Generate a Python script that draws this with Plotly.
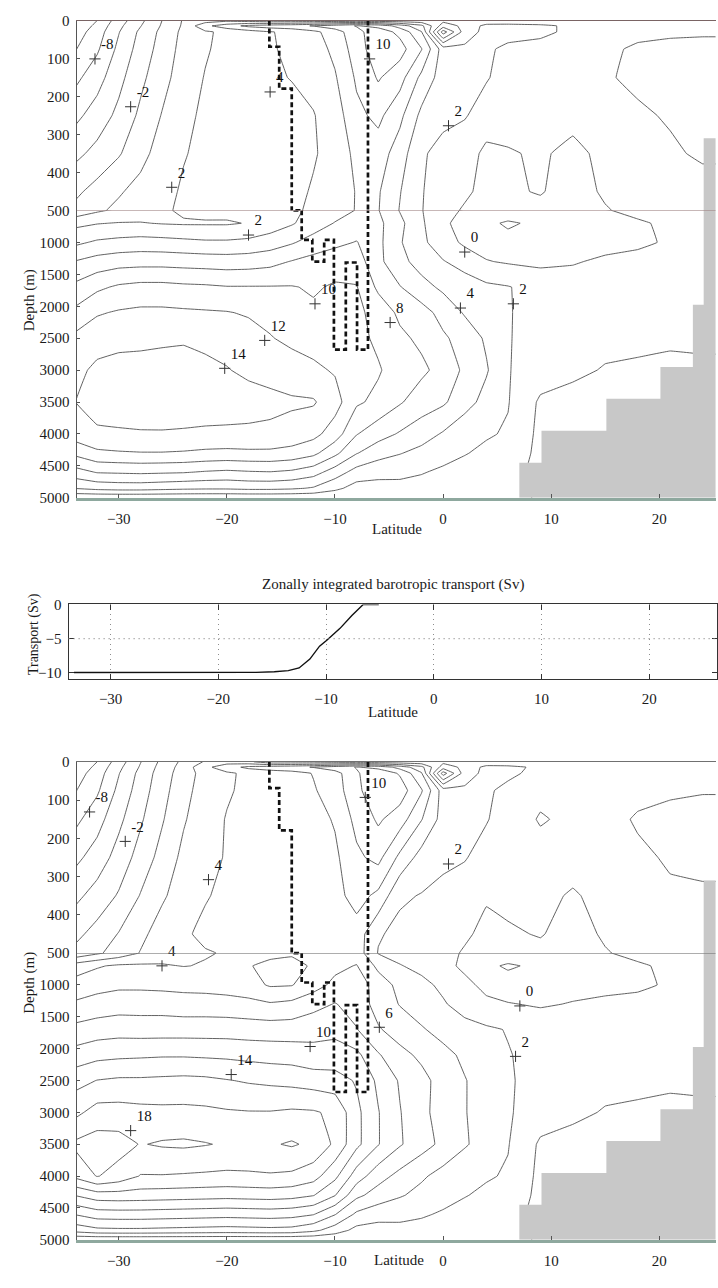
import plotly.graph_objects as go

# ---------------- data ----------------
lats = [-34, -32, -30, -28, -26, -24, -22, -20, -18, -16, -14, -12, -10, -8, -6, -4, -2, 0,
        2, 4, 6, 9, 12, 15, 18, 21, 24, 26]
depths = [0, 14, 30, 75, 150, 250, 350, 450, 500, 700, 1000, 1300, 1700, 2100, 2500, 3000,
          3500, 4000, 4300, 4600, 4850, 5000]

# streamfunction (Sv), experiment shown in the upper panel
psi_a = [
    [-12, -10, -7, -4.5, -2, 0.2, 1, 1.5, 1, 0.5, 0.5, 0.5, 0.5, 0.5, 0.5, 0.5, 0.5, 0.5, 0.5, 0.5, 0.5, 0.5, 0.5, 0.5, 0.5, 0.5, 0.5, 0.5],
    [-11.5, -9.5, -6.5, -4.1, -1.8, 0.3, 3.5, 5.1, 6.5, 7.1, 7.5, 8.1, 9.1, 10.1, 9.5, 7.1, 4.5, -1.0, 0.5, 2.6, 2.7, 2.4, 1.6, 1.0, 0.8, 0.7, 0.6, 0.6],
    [-11, -9, -6.1, -3.6, -1.5, 0.5, 1.7, 2.5, 3.1, 3.9, 4.4, 5.5, 7.0, 9.5, 11.0, 9.5, 6.1, -5.0, 1.0, 2.6, 2.7, 2.5, 1.5, 0.8, 0.5, 0.3, 0.2, 0.2],
    [-10.1, -8.3, -5.5, -3.2, -1.2, 0.7, 1.8, 2.6, 3.1, 3.9, 4.2, 5.0, 6.5, 9.0, 11.3, 10.8, 8.1, 3.0, 2.4, 2.3, 1.6, 1.2, 0.8, 0.4, -0.3, -0.5, -0.5, -0.5],
    [-8.5, -6.8, -4.6, -2.5, -0.7, 1.0, 2.1, 2.7, 3.2, 3.8, 4.05, 4.6, 5.8, 8.3, 10.2, 8.8, 5.5, 3.0, 2.4, 2.1, 1.5, 1.0, 0.7, 0.2, -0.4, -0.7, -0.8, -0.8],
    [-6.5, -5.1, -3.5, -1.6, 0.1, 1.6, 2.3, 2.8, 3.0, 3.5, 3.6, 3.9, 5.0, 7.5, 8.5, 6.5, 3.5, 2.4, 2.1, 1.4, 1.0, 0.9, 0.7, 0.5, 0.3, -0.2, -0.6, -0.6],
    [-4.5, -3.4, -2.2, -0.6, 0.8, 1.9, 2.4, 2.7, 2.8, 3.1, 3.3, 3.8, 4.8, 6.5, 7.0, 5.0, 2.2, 1.5, 1.2, -0.6, -0.2, 0.3, -0.6, 0.6, 0.8, 0.3, -0.3, -0.3],
    [-2.4, -1.3, -0.2, 0.6, 1.5, 2.2, 2.5, 2.6, 2.7, 3.0, 3.4, 4.2, 5.0, 6.1, 6.2, 4.1, 2.1, 1.2, 0.3, -0.5, -0.2, 0.1, -0.6, 0.2, 0.6, 0.9, 0.8, 0.8],
    [-1.5, -0.3, 0.4, 1.0, 1.7, 2.3, 2.6, 2.6, 2.7, 3.0, 3.5, 4.5, 5.2, 6.1, 6.1, 3.9, 2.1, 0.6, -0.2, -0.7, -0.6, -0.4, -0.8, -0.1, 0.4, 0.8, 1.0, 1.0],
    [1.5, 1.9, 2.1, 2.1, 1.9, 1.8, 1.8, 1.8, 2.1, 2.9, 3.8, 5.0, 6.1, 6.8, 6.5, 4.5, 2.3, 0.3, -0.6, -1.5, -2.3, -1.5, -0.8, -0.4, -0.2, 0.3, 0.8, 0.8],
    [3.6, 4.3, 4.6, 4.8, 4.7, 4.5, 4.3, 4.3, 4.5, 5.0, 5.8, 6.8, 7.5, 8.1, 6.5, 4.2, 2.4, 1.0, -0.4, -0.8, -1.3, -1.5, -0.6, -0.4, -0.3, 0.2, 0.5, 0.5],
    [6.1, 6.8, 7.2, 7.3, 7.3, 7.2, 7.1, 7.0, 7.1, 7.4, 8.1, 8.7, 9.2, 9.0, 6.5, 4.6, 3.2, 2.1, 1.3, 0.1, -0.2, -0.4, -0.1, 0.2, 0.5, 0.6, 0.4, 0.4],
    [8.5, 9.6, 10.3, 10.6, 10.6, 10.4, 10.3, 10.1, 10.1, 10.1, 10.1, 9.8, 10.2, 10.1, 7.6, 6.1, 4.7, 3.6, 2.9, 2.4, 2.1, 1.2, 0.6, 0.5, 0.5, 0.5, 0.5, 0.5],
    [10.5, 11.8, 12.2, 12.4, 12.4, 12.3, 12.2, 12.1, 11.8, 11.5, 11.0, 10.3, 10.6, 10.5, 9.2, 7.6, 6.8, 5.3, 3.8, 3.0, 2.1, 1.4, 1.0, 0.8, 0.6, 0.5, 0.5, 0.5],
    [12.5, 13.2, 13.5, 13.6, 13.7, 13.8, 13.6, 13.3, 12.8, 12.1, 11.6, 11.2, 11.0, 10.6, 9.6, 8.4, 7.6, 6.3, 5.2, 3.7, 2.1, 1.3, 0.8, 0.4, 0.3, 0.2, 0.3, 0.3],
    [13.5, 14.4, 14.6, 14.6, 14.7, 14.7, 14.4, 14.1, 13.6, 13.2, 12.8, 12.4, 11.8, 10.8, 10.2, 9.0, 8.4, 7.3, 5.6, 4.2, 2.1, 1.0, 0.3, -0.1, -0.2, -0.3, -0.3, -0.3],
    [14.0, 15.0, 15.2, 15.3, 15.4, 15.4, 15.2, 15.0, 14.8, 14.6, 14.3, 14.2, 12.8, 10.3, 9.5, 8.2, 7.0, 6.3, 4.8, 3.3, 2.1, -0.3, -0.5, -0.4, -0.4, -0.4, -0.4, -0.4],
    [13.0, 13.6, 13.7, 13.8, 13.8, 13.7, 13.6, 13.6, 13.6, 13.5, 13.2, 12.6, 11.0, 8.1, 6.8, 5.8, 4.9, 3.8, 2.6, 2.2, 1.8, -0.5, -0.5, -0.5, -0.5, -0.5, -0.5, -0.5],
    [10.5, 11.6, 11.8, 11.9, 11.9, 11.8, 11.6, 11.5, 11.6, 11.6, 11.3, 10.5, 8.5, 6.1, 4.8, 4.1, 3.4, 2.6, 2.1, 1.6, 1.2, -0.5, -0.5, -0.5, -0.5, -0.5, -0.5, -0.5],
    [7.2, 8.1, 8.2, 8.3, 8.2, 8.1, 7.8, 7.6, 7.8, 7.9, 7.6, 6.8, 5.0, 3.2, 2.6, 2.4, 2.1, 1.7, 1.3, 0.9, 0.6, -0.5, -0.5, -0.5, -0.5, -0.5, -0.5, -0.5],
    [4.1, 4.6, 4.8, 4.8, 4.6, 4.4, 4.3, 4.3, 4.5, 4.5, 4.3, 3.8, 2.5, 1.2, 1.3, 1.5, 1.4, 1.0, 0.6, 0.3, 0.2, -0.3, -0.3, -0.3, -0.3, -0.3, -0.3, -0.3],
    [0.3, 0.3, 0.3, 0.3, 0.3, 0.3, 0.3, 0.3, 0.3, 0.3, 0.3, 0.3, 0.3, 0.3, 0.3, 0.3, 0.3, 0.3, 0.3, 0.3, 0.3, -0.1, -0.1, -0.1, -0.1, -0.1, -0.1, -0.1],
]

# streamfunction (Sv), experiment shown in the lower panel
psi_b = [
    [-12, -10, -7, -4.1, -1.5, 0.5, 2.2, 3.2, 2.5, 0.5, 0.5, 0.5, 0.5, 0.5, 0.5, 0.5, 0.5, 0.5, 0.5, 0.5, 0.5, 0.5, 0.5, 0.5, 0.5, 0.5, 0.5, 0.5],
    [-11.5, -9.5, -6.5, -3.8, -1.2, 0.8, 3.5, 5.1, 6.5, 7.1, 7.5, 8.1, 9.1, 10.1, 9.5, 7.2, 4.6, -1.0, 0.5, 2.6, 2.5, 1.6, 1.2, 1.0, 0.8, 0.6, 0.6, 0.6],
    [-11, -9, -6.1, -3.4, -1.0, 1.0, 2.8, 3.7, 4.4, 4.9, 5.2, 6.1, 7.2, 9.8, 11.2, 9.8, 6.2, -5.0, 1.0, 2.6, 2.4, 1.4, 0.9, 1.0, 0.9, 0.6, 0.4, 0.4],
    [-10.1, -8.3, -5.5, -3.0, -0.7, 1.3, 3.0, 3.8, 4.4, 4.8, 5.0, 5.8, 7.0, 9.5, 11.5, 11.0, 8.2, 3.0, 2.4, 2.3, 1.5, 0.6, 0.7, 1.0, 0.8, 0.3, 0.1, 0.1],
    [-8.5, -6.8, -4.5, -2.3, -0.2, 1.8, 3.2, 4.1, 4.5, 4.9, 4.8, 5.2, 6.2, 8.6, 10.3, 9.0, 6.1, 3.2, 2.4, 2.1, 1.3, -0.2, 0.5, 1.0, -0.3, -0.6, -0.6, -0.6],
    [-6.5, -5.1, -3.2, -1.2, 0.7, 2.5, 3.6, 4.1, 4.5, 4.7, 4.5, 4.8, 5.6, 7.6, 8.6, 5.5, 3.2, 2.4, 2.1, 1.4, 1.0, 0.9, 0.8, 0.9, 0.5, -0.3, -0.5, -0.5],
    [-4.5, -3.2, -1.8, 0.1, 1.7, 3.0, 3.9, 4.3, 4.5, 4.6, 4.5, 4.6, 5.3, 6.8, 5.5, 2.3, 1.9, 1.5, 1.2, 0.2, 0.4, 0.5, -0.2, 0.6, 0.8, 0.4, 0.3, 0.3],
    [-2.5, -1.3, 0.1, 1.5, 2.9, 3.8, 4.3, 4.5, 4.6, 4.5, 4.3, 4.6, 5.2, 5.1, 2.2, 1.5, 1.2, 1.0, 0.3, -0.5, -0.2, 0.1, -0.6, 0.2, 0.6, 0.9, 0.8, 0.8],
    [-1.5, -0.3, 0.8, 2.1, 3.2, 3.7, 3.9, 4.1, 4.3, 4.4, 4.2, 4.6, 5.2, 5.1, 1.9, 1.4, 1.1, 0.6, -0.2, -0.7, -0.6, -0.4, -0.8, -0.1, 0.4, 0.8, 1.0, 1.0],
    [3.0, 3.8, 4.3, 4.3, 4.15, 3.95, 4.1, 4.2, 4.1, 3.6, 3.5, 4.2, 5.5, 6.1, 3.5, 2.1, 1.5, 0.6, -0.4, -1.5, -2.3, -1.5, -0.8, -0.4, -0.2, 0.3, 0.8, 0.8],
    [4.8, 5.3, 5.6, 5.6, 5.5, 5.4, 5.3, 5.1, 4.7, 3.8, 3.9, 5.2, 6.5, 7.1, 5.1, 3.4, 2.5, 1.6, 0.5, -0.5, -1.0, -1.4, -0.6, -0.4, -0.3, 0.2, 0.5, 0.5],
    [6.3, 6.8, 7.1, 7.1, 7.1, 6.9, 6.9, 6.8, 6.6, 6.2, 6.5, 7.3, 8.1, 7.2, 5.2, 3.9, 3.0, 2.2, 1.2, 0.4, 0.1, -0.2, 0.1, 0.3, 0.5, 0.6, 0.4, 0.4],
    [8.6, 9.0, 9.2, 9.1, 9.1, 9.1, 9.1, 9.1, 9.0, 9.0, 9.0, 9.4, 9.5, 8.1, 6.2, 5.1, 4.2, 3.3, 2.7, 2.3, 1.9, 1.2, 0.8, 0.6, 0.5, 0.5, 0.5, 0.5],
    [10.8, 11.4, 11.6, 11.7, 11.8, 11.8, 11.7, 11.6, 11.4, 11.2, 11.1, 10.6, 10.8, 10.5, 8.2, 6.6, 5.6, 4.6, 3.6, 2.8, 2.1, 1.4, 1.0, 0.8, 0.6, 0.5, 0.5, 0.5],
    [13.3, 14.05, 14.3, 14.3, 14.4, 14.5, 14.4, 14.1, 13.8, 13.6, 13.4, 13.1, 12.8, 11.8, 9.6, 7.8, 6.6, 5.2, 4.1, 3.1, 2.2, 1.3, 0.8, 0.4, 0.3, 0.2, 0.3, 0.3],
    [15.5, 16.8, 16.8, 16.6, 16.5, 16.5, 16.4, 16.2, 16.1, 16.1, 16.3, 16.2, 15.6, 12.5, 10.1, 8.1, 6.5, 5.2, 4.1, 3.1, 2.2, 1.0, 0.3, -0.1, -0.2, -0.3, -0.3, -0.3],
    [18.4, 18.9, 18.8, 17.9, 18.2, 18.3, 18.1, 17.8, 17.6, 17.8, 18.2, 17.6, 15.6, 12.5, 10.1, 8.2, 6.8, 5.5, 4.2, 3.2, 2.1, -0.3, -0.5, -0.4, -0.4, -0.4, -0.4, -0.4],
    [16.5, 18.1, 17.2, 15.9, 15.9, 15.8, 15.7, 15.6, 15.7, 15.8, 15.6, 14.8, 12.5, 9.0, 6.8, 5.4, 4.3, 3.3, 2.6, 2.2, 1.8, -0.5, -0.5, -0.5, -0.5, -0.5, -0.5, -0.5],
    [12.1, 13.1, 13.2, 13.1, 13.0, 12.9, 12.8, 12.7, 12.8, 12.9, 12.7, 12.1, 10.1, 6.5, 5.1, 4.2, 3.4, 2.6, 2.1, 1.6, 1.2, -0.5, -0.5, -0.5, -0.5, -0.5, -0.5, -0.5],
    [8.1, 9.0, 9.1, 9.1, 9.0, 8.9, 8.8, 8.7, 8.8, 8.9, 8.7, 8.1, 6.1, 3.6, 2.8, 2.5, 2.2, 1.8, 1.3, 0.9, 0.6, -0.5, -0.5, -0.5, -0.5, -0.5, -0.5, -0.5],
    [4.8, 5.5, 5.6, 5.6, 5.5, 5.4, 5.3, 5.2, 5.3, 5.4, 5.3, 4.5, 3.0, 1.4, 1.2, 1.5, 1.4, 1.0, 0.6, 0.3, 0.2, -0.3, -0.3, -0.3, -0.3, -0.3, -0.3, -0.3],
    [0.3, 0.3, 0.3, 0.3, 0.3, 0.3, 0.3, 0.3, 0.3, 0.3, 0.3, 0.3, 0.3, 0.3, 0.3, 0.3, 0.3, 0.3, 0.3, 0.3, 0.3, -0.1, -0.1, -0.1, -0.1, -0.1, -0.1, -0.1],
]

# contour labels (position of the "+" and the value)
lab_a_lat = [-32.2, -28.9, -25.1, -16.0, -6.8, 0.5, -18.0, 2.0, -11.85, -4.9, 1.6, 6.5, -16.5, -20.2]
lab_a_dep = [101, 227, 439, 188, 101, 277, 885, 1151, 1962, 2255, 2028, 1962, 2535, 2972]
lab_a_txt = ["-8", "-2", "2", "4", "10", "2", "2", "0", "10", "8", "4", "2", "12", "14"]

lab_b_lat = [-32.7, -29.4, -21.7, -26.0, -7.2, 0.5, 7.1, -5.9, 6.7, -12.3, -19.6, -28.9]
lab_b_dep = [131, 208, 308, 700, 93, 267, 1329, 1664, 2121, 1966, 2406, 3286]
lab_b_txt = ["-8", "-2", "4", "4", "10", "2", "0", "6", "2", "10", "14", "18"]

# bottom topography (steps): edges in latitude, top depth of each step
topo_edges = [7.05, 9.1, 15.1, 20.1, 23.1, 24.1, 26.5]
topo_top = [4450, 3950, 3450, 2950, 1975, 310]

# thick dashed outline
dash_lat = [-16.07, -16.07, -15.16, -15.16, -14.0, -14.0, -13.08, -13.08, -12.1, -12.1, -11.0, -11.0,
            -10.1, -10.1, -9.0, -9.0, -7.96, -7.96, -6.95, -6.95]
dash_dep = [0, 69, 69, 179, 179, 500, 500, 961, 961, 1300, 1300, 961,
            961, 2680, 2680, 1315, 1315, 2680, 2680, 0]

# zonally integrated barotropic transport
trans_lat = [-33.4, -30, -25, -20, -16.5, -14.8, -13.5, -12.5, -11.5, -10.6, -9.9, -8.7, -7.6, -6.55, -5.1]
trans_val = [-9.96, -9.96, -9.97, -9.97, -9.95, -9.85, -9.7, -9.3, -8.0, -6.1, -5.2, -3.5, -1.6, 0.0, 0.0]

# ---------------- figure ----------------
W, H = 718, 1288
FONT = "Liberation Serif, Times New Roman, serif"
TXT = "#1a1a1a"
LINEC = "#505050"
X_RANGE = [-33.9, 25.2]
X_DOM = [76.7 / W, 0.998]


def py(px):
    return 1 - px / H


fig = go.Figure()

panels = [
    dict(z=psi_a, up=("x", "y"), lo=("x2", "y2"), labs=(lab_a_lat, lab_a_dep, lab_a_txt)),
    dict(z=psi_b, up=("x4", "y4"), lo=("x5", "y5"), labs=(lab_b_lat, lab_b_dep, lab_b_txt)),
]

# topography polygon from the step arrays
tx, ty = [topo_edges[0]], [5000]
for i, d in enumerate(topo_top):
    tx += [topo_edges[i], topo_edges[i + 1]]
    ty += [d, d]
tx += [topo_edges[-1], topo_edges[0]]
ty += [5000, 5000]

for p in panels:
    for (xa, ya) in (p["up"], p["lo"]):
        fig.add_trace(go.Contour(
            x=lats, y=depths, z=p["z"], xaxis=xa, yaxis=ya,
            autocontour=False,
            contours=dict(start=-10, end=20, size=2, coloring="lines", showlabels=False),
            line=dict(width=0.9, smoothing=0.15),
            colorscale=[[0, LINEC], [1, LINEC]], showscale=False, hoverinfo="skip",
        ))
        fig.add_trace(go.Scatter(
            x=tx, y=ty, xaxis=xa, yaxis=ya, mode="lines", fill="toself",
            fillcolor="#c8c8c8", line=dict(width=0, color="#c8c8c8"), hoverinfo="skip",
        ))
        fig.add_trace(go.Scatter(
            x=dash_lat, y=dash_dep, xaxis=xa, yaxis=ya, mode="lines",
            line=dict(color="#111111", width=2.7, dash="5px,3px"), hoverinfo="skip",
        ))
    la, ld, lt = p["labs"]
    for (xa, ya), sel in ((p["up"], lambda d: d <= 500), (p["lo"], lambda d: d > 500)):
        idx = [i for i, d in enumerate(ld) if sel(d)]
        fig.add_trace(go.Scatter(
            x=[la[i] for i in idx], y=[ld[i] for i in idx], text=[lt[i] for i in idx],
            xaxis=xa, yaxis=ya, mode="markers+text", textposition="top right",
            textfont=dict(family=FONT, size=15, color="#111111"),
            marker=dict(symbol="cross-thin", size=8, line=dict(width=1, color="#333")),
            hoverinfo="skip", cliponaxis=False,
        ))

# middle panel line
fig.add_trace(go.Scatter(x=trans_lat, y=trans_val, xaxis="x3", yaxis="y3", mode="lines",
                         line=dict(color="#111", width=1.4), hoverinfo="skip"))

tickfont = dict(family=FONT, size=15, color=TXT)


def upper_axes(top_px, mid_px, topcol):
    xa = dict(domain=X_DOM, range=X_RANGE, side="top", showline=True, linecolor=topcol,
              linewidth=1, showticklabels=False, ticks="", showgrid=False, zeroline=False)
    ya = dict(domain=[py(mid_px), py(top_px)], range=[500, 0],
              tickvals=[0, 100, 200, 300, 400, 500], showline=True, linecolor="#555",
              linewidth=1, ticks="inside", ticklen=3, tickcolor="#555", tickfont=tickfont,
              showgrid=False, zeroline=False, ticklabelstandoff=3)
    return xa, ya


def lower_axes(mid_px, bot_px):
    xa = dict(domain=X_DOM, range=X_RANGE, showline=True, linecolor="#8ea89e", linewidth=2.5,
              ticks="inside", ticklen=4, tickcolor="#555", tickvals=[-30, -20, -10, 0, 10, 20],
              tickfont=tickfont, showgrid=False, zeroline=False, ticklabelstandoff=5)
    ya = dict(domain=[py(bot_px), py(mid_px)], range=[5000, 500],
              tickvals=[1000, 1500, 2000, 2500, 3000, 3500, 4000, 4500, 5000],
              showline=True, linecolor="#555", linewidth=1, ticks="inside", ticklen=3,
              tickcolor="#555", tickfont=tickfont, showgrid=False, zeroline=False,
              ticklabelstandoff=3)
    return xa, ya


xa1, ya1 = upper_axes(12.7, 205, "#7a6464")
xa2, ya2 = lower_axes(205, 496)
xa4, ya4 = upper_axes(763.3, 957, "#707070")
xa5, ya5 = lower_axes(957, 1247.3)

xa3 = dict(domain=[68.7 / W, 1.0], range=[-33.9, 26.3], showline=True, mirror="ticks",
           linecolor="#333", linewidth=1.2, ticks="inside", ticklen=5, tickcolor="#333",
           tickvals=[-30, -20, -10, 0, 10, 20], tickfont=tickfont, showgrid=True,
           gridcolor="#8c8c8c", griddash="1px,4px", gridwidth=1.2, zeroline=False,
           ticklabelstandoff=6)
ya3 = dict(domain=[py(679.3), py(604)], range=[-10.9, 0], showline=True, mirror="ticks",
           linecolor="#333", linewidth=1.2, ticks="inside", ticklen=5, tickcolor="#333",
           tickvals=[-10, -5, 0], tickfont=tickfont, showgrid=False, zeroline=False,
           ticklabelstandoff=3)

fig.update_layout(
    width=W, height=H, margin=dict(l=0, r=0, t=0, b=0),
    paper_bgcolor="white", plot_bgcolor="white", showlegend=False,
    font=dict(family=FONT, color=TXT),
    xaxis=dict(anchor="y", **xa1), yaxis=dict(anchor="x", **ya1),
    xaxis2=dict(anchor="y2", **xa2), yaxis2=dict(anchor="x2", **ya2),
    xaxis3=dict(anchor="y3", **xa3), yaxis3=dict(anchor="x3", **ya3),
    xaxis4=dict(anchor="y4", **xa4), yaxis4=dict(anchor="x4", **ya4),
    xaxis5=dict(anchor="y5", **xa5), yaxis5=dict(anchor="x5", **ya5),
)

shapes = [
    dict(type="line", xref="x2 domain", yref="y2", x0=0, x1=1, y0=500, y1=500,
         line=dict(color="#8a6a6a", width=1)),
    dict(type="line", xref="x5 domain", yref="y5", x0=0, x1=1, y0=500, y1=500,
         line=dict(color="#7a7a7a", width=1)),
    dict(type="line", xref="x3 domain", yref="y3", x0=0, x1=1, y0=-5, y1=-5,
         line=dict(color="#8c8c8c", width=1.2, dash="1px,4px")),
]
fig.update_layout(shapes=shapes)

ann_font = dict(family=FONT, size=15, color=TXT)
annotations = [
    dict(text="Depth (m)", x=19 / W, y=py(262), xref="paper", yref="paper", textangle=-90,
         showarrow=False, font=ann_font),
    dict(text="Depth (m)", x=19 / W, y=py(1020), xref="paper", yref="paper", textangle=-90,
         showarrow=False, font=ann_font),
    dict(text="Latitude", x=398 / W, y=py(528), xref="paper", yref="paper",
         showarrow=False, font=ann_font),
    dict(text="Latitude", x=400 / W, y=py(1278), xref="paper", yref="paper",
         showarrow=False, font=ann_font),
    dict(text="Latitude", x=394 / W, y=py(713), xref="paper", yref="paper",
         showarrow=False, font=ann_font),
    dict(text="Zonally integrated barotropic transport (Sv)", x=394 / W, y=py(584),
         xref="paper", yref="paper", showarrow=False, font=dict(family=FONT, size=15, color=TXT)),
    dict(text="Transport (Sv)", x=24 / W, y=py(634), xref="paper", yref="paper", textangle=-90,
         showarrow=False, font=dict(family=FONT, size=14, color=TXT)),
]
fig.update_layout(annotations=annotations)

fig.write_html("out.html")
